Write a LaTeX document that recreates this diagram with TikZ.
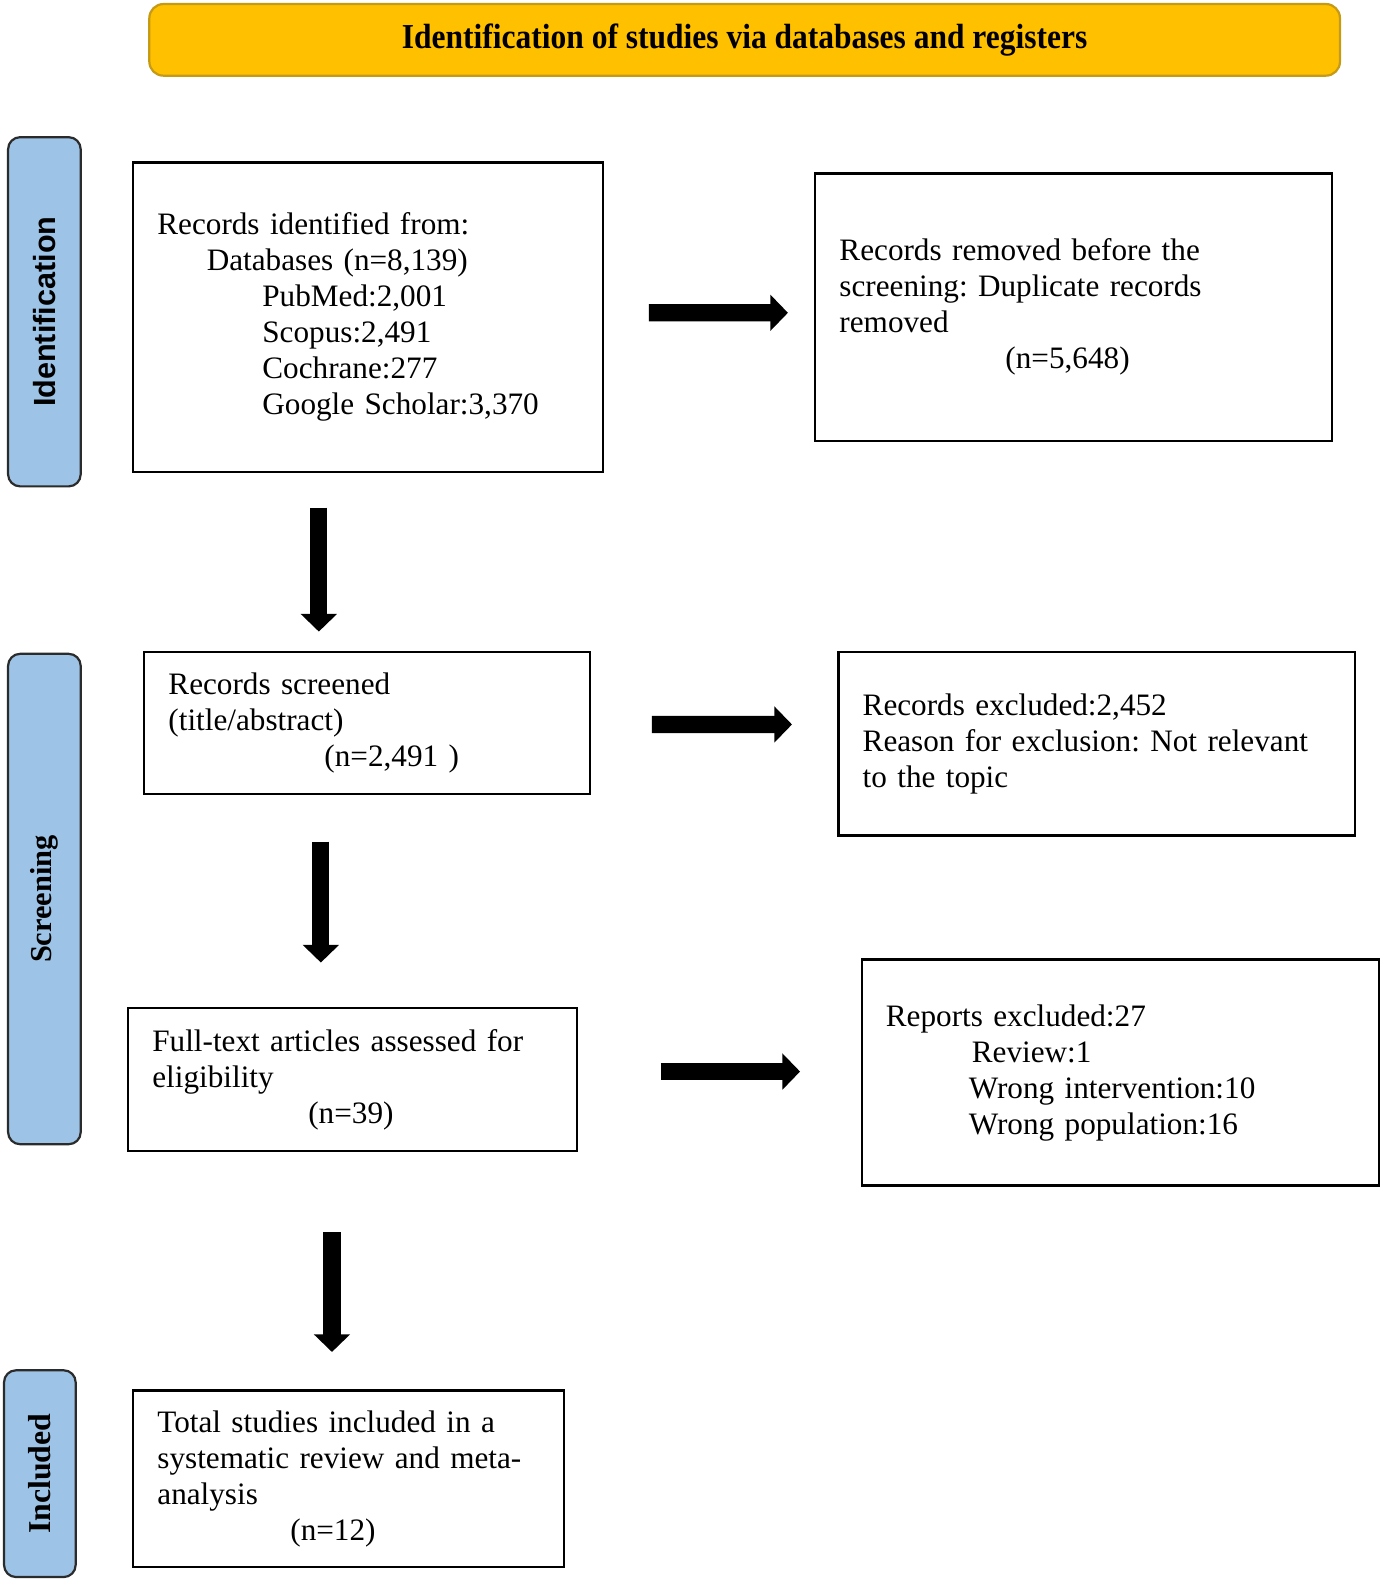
\documentclass[tikz,border=0pt]{standalone}
\usepackage{fontspec}
\setmainfont{Liberation Serif}[WordSpace={0.55}]
\newfontfamily\titlefont{Liberation Serif}
\newfontfamily\arialfont{Liberation Sans}
\frenchspacing
\usetikzlibrary{arrows.meta,calc}
\definecolor{titlefill}{HTML}{FFC000}
\definecolor{titledraw}{HTML}{C59A14}
\definecolor{sidefill}{HTML}{9DC3E6}
\definecolor{sidedraw}{HTML}{2B2B2B}
\tikzset{
  box/.style={draw=black, line width=1.1pt, fill=white, inner xsep=12.1pt, inner ysep=0pt,
    align=left, font=\fontsize{15.6}{18}\selectfont},
  side/.style={draw=sidedraw, line width=1.1pt, fill=sidefill, rounded corners=6pt,
    rotate=90, inner sep=0pt},
  bigarrow/.style={line width=8.6pt, -{Triangle[width=17.6pt,length=8.8pt]}},
}
\begin{document}
\begin{tikzpicture}[x=0.5045pt,y=-0.5045pt]
\useasboundingbox (0pt,0pt) rectangle (690.5pt,-790.5pt);

% title
\node[draw=titledraw, line width=1.1pt, fill=titlefill, rounded corners=7pt,
  minimum width=595.3pt, minimum height=35.8pt, inner sep=0pt] (title) at (738,39.5)
  {\scalebox{0.9}[1]{\titlefont\fontsize{17.5}{20}\selectfont\bfseries Identification of studies via databases and registers}};

% side labels
\node[side, minimum width=174.6pt, minimum height=36.3pt] (sid) at (44,309)
  {\arialfont\bfseries\fontsize{15.3}{18}\selectfont Identification};
\node[side, minimum width=245.2pt, minimum height=36.3pt] (sscr) at (44,891)
  {\titlefont\bfseries\fontsize{15.2}{18}\selectfont Screening};
\node[side, minimum width=103.4pt, minimum height=35.8pt] (sinc) at (39.5,1460.5)
  {\titlefont\bfseries\fontsize{15.9}{18}\selectfont Included};

% boxes
\node[box, minimum width=235.1pt, text width=210.9pt, minimum height=154.9pt] (b1) at (365,314.5)
  {Records identified from:\\
   \hspace*{24.7pt}Databases (n=8,139)\\
   \hspace*{52.5pt}PubMed:2,001\\
   \hspace*{52.5pt}Scopus:2,491\\
   \hspace*{52.5pt}Cochrane:277\\
   \hspace*{52.5pt}Google Scholar:3,370};
\node[box, minimum width=258.3pt, text width=234.1pt, minimum height=133.7pt] (b2) at (1064,304.5)
  {Records removed before the\\
   screening: Duplicate records\\
   removed\\
   \hspace*{83pt}(n=5,648)};
\node[box, minimum width=223pt, text width=198.8pt, minimum height=71.1pt] (b3) at (364,716.5)
  {Records screened\\
   (title/abstract)\\
   \hspace*{78pt}(n=2,491 )};
\node[box, minimum width=258.3pt, text width=234.1pt, minimum height=91.8pt] (b4) at (1087,737)
  {Records excluded:2,452\\
   Reason for exclusion: Not relevant\\
   to the topic};
\node[box, minimum width=224.5pt, text width=200.3pt, minimum height=71.6pt] (b5) at (349.5,1070)
  {Full-text articles assessed for\\
   eligibility\\
   \hspace*{78pt}(n=39)};
\node[box, minimum width=258.8pt, text width=234.6pt, minimum height=113pt] (b6) at (1110.5,1063)
  {Reports excluded:27\\
   \hspace*{43pt}Review:1\\
   \hspace*{41.5pt}Wrong intervention:10\\
   \hspace*{41.5pt}Wrong population:16};
\node[box, minimum width=215.4pt, text width=191.2pt, minimum height=88.3pt] (b7) at (345.5,1465.5)
  {Total studies included in a\\
   systematic review and meta-\\
   analysis\\
   \hspace*{66.5pt}(n=12)};

% arrows
\draw[bigarrow] ($(b1.east)+(44,-4.5)$) -- ($(b2.west)+(-26,5.5)$);
\draw[bigarrow] ($(b3.east)+(60,1.5)$) -- ($(b4.west)+(-45,-19)$);
\draw[bigarrow] ($(b5.east)+(82,-8)$) -- ($(b6.west)+(-60,-1)$);
\draw[bigarrow] ($(b1.south)+(-49,34)$) -- ($(b3.north)+(-48,-19)$);
\draw[bigarrow] ($(b3.south)+(-46,46)$) -- ($(b5.north)+(-31.5,-44)$);
\draw[bigarrow] ($(b5.south)+(-20.5,79)$) -- ($(b7.north)+(-16.5,-37)$);
\end{tikzpicture}
\end{document}
